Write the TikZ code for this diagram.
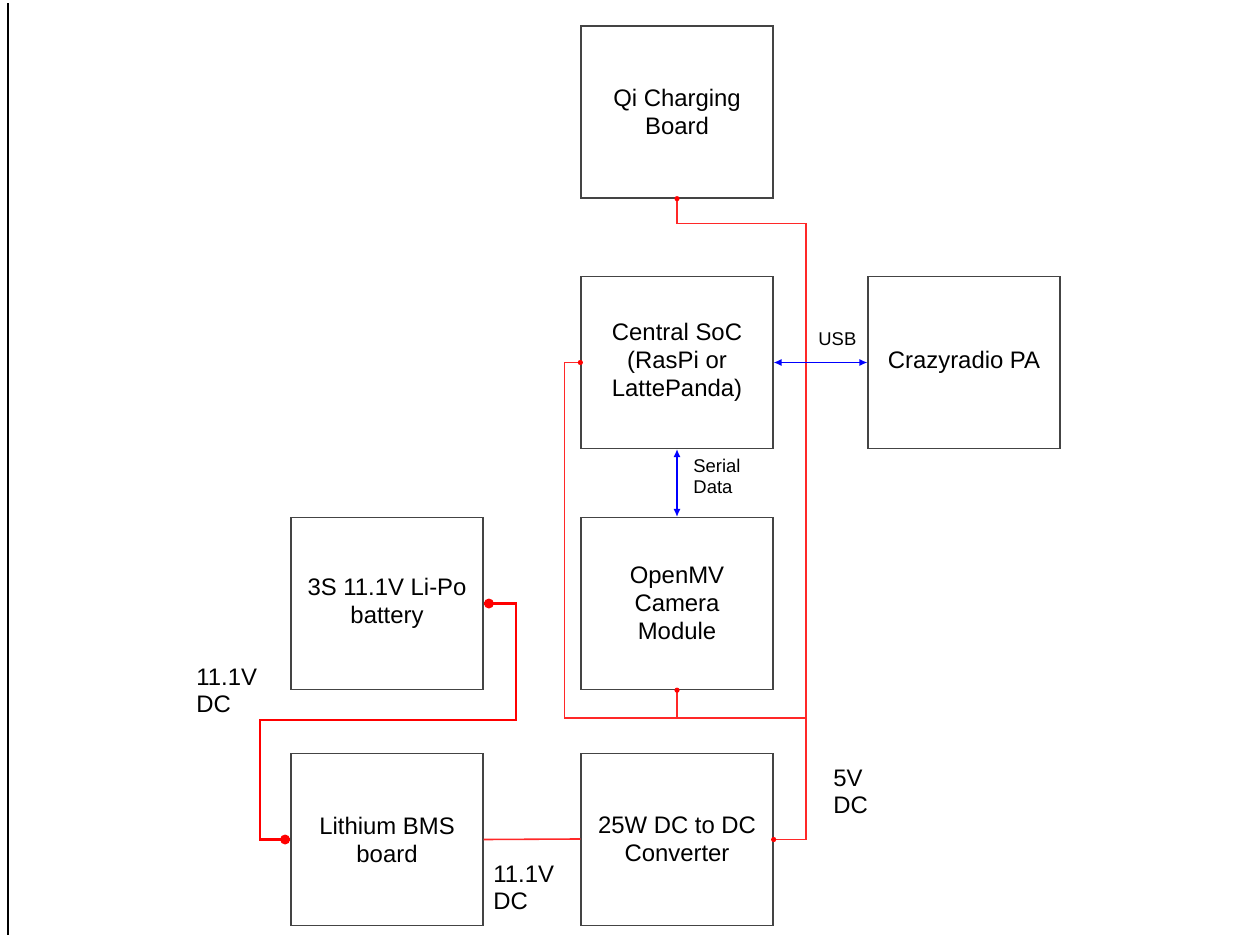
\documentclass[tikz,border=0pt]{standalone}
\usepackage{fontspec}
\setmainfont{Liberation Sans}
\usetikzlibrary{arrows.meta}
\tikzset{>=latex}
\definecolor{wire}{RGB}{255,40,40}
\tikzset{
  block/.style={rectangle, draw={rgb,255:red,68;green,68;blue,68}, line width=0.75pt, minimum width=3.84cm, minimum height=3.44cm, align=center, font=\fontsize{13.6}{15.9}\selectfont},
  pwr/.style={draw=wire, line width=0.75pt},
  bigpwr/.style={draw=red, line width=1.6pt},
  data/.style={draw=blue, line width=0.7pt, {Latex[length=4.5pt,width=4pt]}-{Latex[length=4.5pt,width=4pt]}},
  lbl/.style={align=left, font=\fontsize{13.6}{15.4}\selectfont},
  small/.style={align=left, font=\fontsize{10.5}{12}\selectfont, inner sep=0pt}
}

\begin{document}
\begin{tikzpicture}[x=0.02cm, y=-0.02cm]
\useasboundingbox (0,0) rectangle (1255,937);
\draw[line width=0.9pt] (8,3) -- (8,935);

\node[block] (qi) at (677,112) {Qi Charging\\Board};
\node[block] (soc) at (677,362.5) {Central SoC\\(RasPi or\\LattePanda)};
\node[block] (radio) at (964,362.5) {Crazyradio PA};
\node[block] (cam) at (677,603.5) {OpenMV\\Camera\\Module};
\node[block] (batt) at (387,603.5) {3S 11.1V Li-Po\\battery};
\node[block] (bms) at (387,839.5) {Lithium BMS\\board};
\node[block] (dcdc) at (677,839.5) {25W DC to DC\\Converter};

\coordinate (j) at (806,718);
\coordinate (b1) at (516,720);
\coordinate (b2) at (260,720);

% 5V rail
\draw[pwr] (qi.south) -- ++(0,25) -| (j);
\draw[pwr] (j) |- (dcdc.east);
\draw[pwr] (soc.west) -- ++(-16,0) |- (j);
\draw[pwr] (cam.south) -- (cam.south |- j);
\fill[red] (qi.south) circle (2.6) (soc.west) circle (2.6) (cam.south) circle (2.6) (dcdc.east) circle (2.6);

% battery side
\draw[bigpwr] (batt.east) -| (b1) -- (b2) |- (bms.west);
\fill[red] ([xshift=3]batt.east) circle (5) ([xshift=-3]bms.west) circle (5);
\draw[pwr, line width=0.9pt] (bms.east) -- ([yshift=0.3pt]dcdc.west);

% data links
\draw[data] (soc.east) -- (radio.west) node[small, pos=0.68, above=9pt, anchor=south] (usb) {USB};
\draw[data] (soc.south) -- (cam.north) node[small, midway, right=9pt, yshift=4pt] (ser) {Serial\\Data};

\node[lbl, anchor=west, inner sep=0pt] (v1) at (196,691) {11.1V\\DC};
\node[lbl, anchor=west, inner sep=0pt] (v2) at (493,888) {11.1V\\DC};
\node[lbl, anchor=west, inner sep=0pt] (v3) at (833,792) {5V\\DC};
\end{tikzpicture}
\end{document}
